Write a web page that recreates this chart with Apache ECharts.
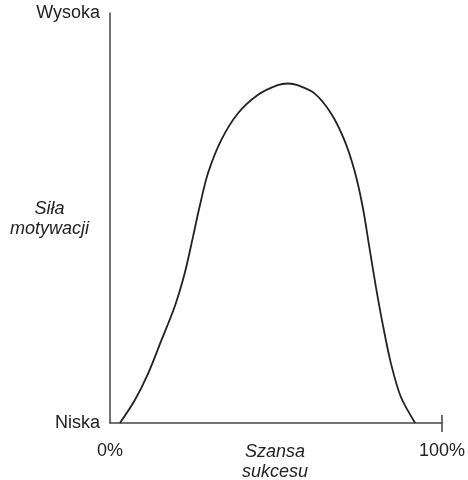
<!DOCTYPE html>
<html>
<head>
<meta charset="utf-8">
<script src="https://cdn.jsdelivr.net/npm/echarts@6/dist/echarts.min.js"></script>
<style>
  html, body { margin: 0; padding: 0; background: #fff; }
  #chart { width: 468px; height: 480px; }
</style>
</head>
<body>
<div id="chart"></div>
<script>
// szansa sukcesu (%) i siła motywacji (0 = niska, 100 = wysoka)
var szansa = [3, 7.5, 11.5, 15.5, 19.5, 22.5, 25, 27, 29.5, 33.5, 38.5, 44.5, 50.5, 53.6,
              56.5, 61.6, 66.6, 70.6, 73.6, 76.1, 78.1, 80.1, 82.1, 84.6, 87.6, 91.9];
var motywacja = [0, 5.6, 12.1, 20.2, 28.4, 36.5, 45.4, 52.8, 60.9, 69, 75.5, 80, 82.4, 82.8,
                 82.4, 80.4, 75.5, 69, 61.7, 52.8, 43, 33.2, 24.3, 14.6, 6.4, 0];
var xLabels = { 0: '0%', 100: '100%' };
var yLabels = { 0: 'Niska', 100: 'Wysoka' };

var dane = szansa.map(function (x, i) { return [x, motywacja[i]]; });

var font = '"Liberation Sans", Arial, sans-serif';
var chart = echarts.init(document.getElementById('chart'));

var option = {
    animation: false,
    grid: { left: 110, right: 25, top: 13, bottom: 57 },
    xAxis: [
        {
            type: 'value',
            min: 0, max: 100, interval: 100,
            splitLine: { show: false },
            axisLine: { lineStyle: { color: '#444', width: 1.5 } },
            axisTick: { show: true, customValues: [100], length: 9, lineStyle: { color: '#444', width: 1.5 } },
            axisLabel: {
                margin: 19, color: '#222', fontSize: 18, fontFamily: font,
                formatter: function (v) { return xLabels[v] || ''; }
            }
        },
        {
            type: 'value',
            position: 'bottom',
            min: 0, max: 100, interval: 100,
            splitLine: { show: false },
            axisLine: { show: false },
            axisLabel: { show: false },
            axisTick: { show: true, inside: true, customValues: [100], length: 8, lineStyle: { color: '#444', width: 1.5 } }
        }
    ],
    yAxis: {
        type: 'value',
        min: 0, max: 100, interval: 100,
        splitLine: { show: false },
        axisLine: { show: true, lineStyle: { color: '#444', width: 1.5 } },
        axisTick: { show: false },
        axisLabel: {
            margin: 10, color: '#222', fontSize: 18, fontFamily: font,
            formatter: function (v) { return yLabels[v] || ''; }
        }
    },
    graphic: [
        {
            type: 'text', left: 10, top: 199,
            style: {
                text: 'Siła\nmotywacji', x: 39, textAlign: 'center',
                font: 'italic 18px ' + font, fill: '#222', lineHeight: 20
            }
        },
        {
            type: 'text', left: 242, top: 442,
            style: {
                text: 'Szansa\nsukcesu', x: 30, textAlign: 'center',
                font: 'italic 18px ' + font, fill: '#222', lineHeight: 20
            }
        }
    ],
    series: [{
        type: 'line',
        data: dane,
        smooth: 0.3,
        showSymbol: false,
        lineStyle: { color: '#222', width: 1.8 }
    }]
};
chart.setOption(option);
</script>
</body>
</html>
